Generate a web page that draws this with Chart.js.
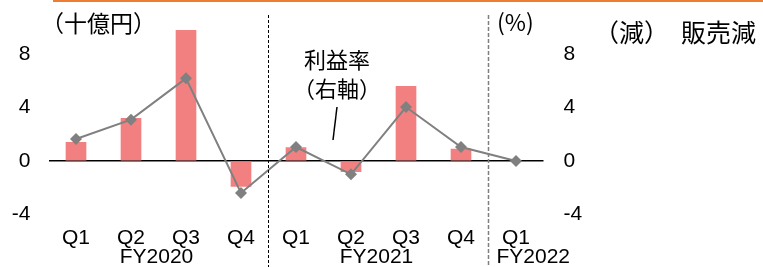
<!DOCTYPE html>
<html>
<head>
<meta charset="utf-8">
<script src="https://cdn.jsdelivr.net/npm/chart.js@4"></script>
<style>
  body { margin: 0; background: #fff; }
  canvas { display: block; }
</style>
</head>
<body>
<canvas id="chart" width="763" height="267"></canvas>
<script>
const quarters = ["Q1", "Q2", "Q3", "Q4", "Q1", "Q2", "Q3", "Q4", "Q1"];
const fiscalYears = ["FY2020", "FY2021", "FY2022"];
const salesDrop = [1.4, 3.2, 9.8, -1.9, 1.0, -0.8, 5.6, 0.9, null];   // 十億円
const marginRate = [1.65, 3.1, 6.2, -2.4, 1.05, -1.0, 4.05, 1.05, 0.0]; // %
const yTicks = [-4, 0, 4, 8];

const numFont = "'Liberation Sans', Arial, sans-serif";
const jpFont = "'Noto Sans CJK JP', sans-serif";

// dashed separators, group labels and notes
const extras = {
  id: "extras",
  afterDraw(chart) {
    const ctx = chart.ctx;
    const x = chart.scales.x;
    ctx.save();

    ctx.fillStyle = "#ED7D31";
    ctx.fillRect(53, 0, 710, 2);

    const sep1 = x.getPixelForValue(3.5);
    const sep2 = x.getPixelForValue(7.5);
    ctx.lineWidth = 1;
    ctx.strokeStyle = "#000";
    ctx.setLineDash([3, 2]);
    ctx.beginPath();
    ctx.moveTo(sep1, 15);
    ctx.lineTo(sep1, 267);
    ctx.stroke();
    ctx.lineWidth = 1.5;
    ctx.strokeStyle = "#7f7f7f";
    ctx.setLineDash([4, 2]);
    ctx.beginPath();
    ctx.moveTo(sep2, 15);
    ctx.lineTo(sep2, 267);
    ctx.stroke();
    ctx.setLineDash([]);

    ctx.fillStyle = "#000";
    ctx.textBaseline = "alphabetic";
    ctx.font = "21px " + numFont;
    ctx.textAlign = "center";
    ctx.fillText(fiscalYears[0], x.getPixelForValue(1.5) - 2, 263);
    ctx.fillText(fiscalYears[1], x.getPixelForValue(5.5) - 2, 263);
    ctx.textAlign = "left";
    ctx.fillText(fiscalYears[2], sep2 + 8, 263);

    ctx.textBaseline = "middle";
    ctx.font = "23px " + jpFont;
    ctx.textAlign = "left";
    ctx.fillText("（十億円）", 41, 23);
    ctx.fillText("(%)", 497, 22);
    ctx.font = "22px " + jpFont;
    ctx.textAlign = "center";
    ctx.fillText("利益率", 337, 60);
    ctx.fillText("（右軸）", 337, 89);
    ctx.font = "25px " + jpFont;
    ctx.textAlign = "left";
    ctx.fillText("（減）", 594, 32);
    ctx.fillText("販売減", 681, 32);

    ctx.strokeStyle = "#000";
    ctx.lineWidth = 1.5;
    ctx.beginPath();
    ctx.moveTo(337, 107);
    ctx.lineTo(333, 140);
    ctx.stroke();
    ctx.restore();
  }
};

// keep axis tick padding from pushing the plot area down
const fixY = width => s => {
  s.width = width;
  s.paddingTop = 0;
  s.paddingBottom = 0;
};

new Chart(document.getElementById("chart"), {
  type: "bar",
  data: {
    labels: quarters,
    datasets: [
      {
        type: "line",
        data: marginRate,
        yAxisID: "y2",
        order: 1,
        borderColor: "#808080",
        borderWidth: 2,
        pointStyle: "rectRot",
        pointRadius: 6,
        pointBackgroundColor: "#808080",
        pointBorderWidth: 0,
        tension: 0
      },
      {
        data: salesDrop,
        yAxisID: "y",
        order: 2,
        backgroundColor: "#F28080",
        barThickness: 20
      }
    ]
  },
  options: {
    responsive: false,
    animation: false,
    layout: { padding: { top: 27.7, bottom: 0, left: 0, right: 0 } },
    plugins: { legend: { display: false }, tooltip: { enabled: false } },
    scales: {
      x: {
        offset: true,
        afterFit: s => { s.height = 52.7; },
        grid: { display: false },
        border: { display: false },
        ticks: { color: "#000", font: { family: numFont, size: 21 }, padding: 3, maxRotation: 0, autoSkip: false }
      },
      y: {
        position: "left",
        min: -4,
        max: 10,
        afterFit: fixY(48.5),
        afterBuildTicks: s => { s.ticks = yTicks.map(v => ({ value: v })); },
        border: { display: false },
        grid: {
          drawTicks: false,
          lineWidth: 1.5,
          color: c => (c.tick && c.tick.value === 0 ? "#000" : "rgba(0,0,0,0)")
        },
        ticks: { color: "#000", font: { family: numFont, size: 21 }, padding: 18 }
      },
      y2: {
        position: "right",
        min: -4,
        max: 10,
        afterFit: fixY(219.5),
        afterBuildTicks: s => { s.ticks = yTicks.map(v => ({ value: v })); },
        border: { display: false },
        grid: { display: false, drawTicks: false },
        ticks: { color: "#000", font: { family: numFont, size: 21 }, padding: 20 }
      }
    }
  },
  plugins: [extras]
});
</script>
</body>
</html>
